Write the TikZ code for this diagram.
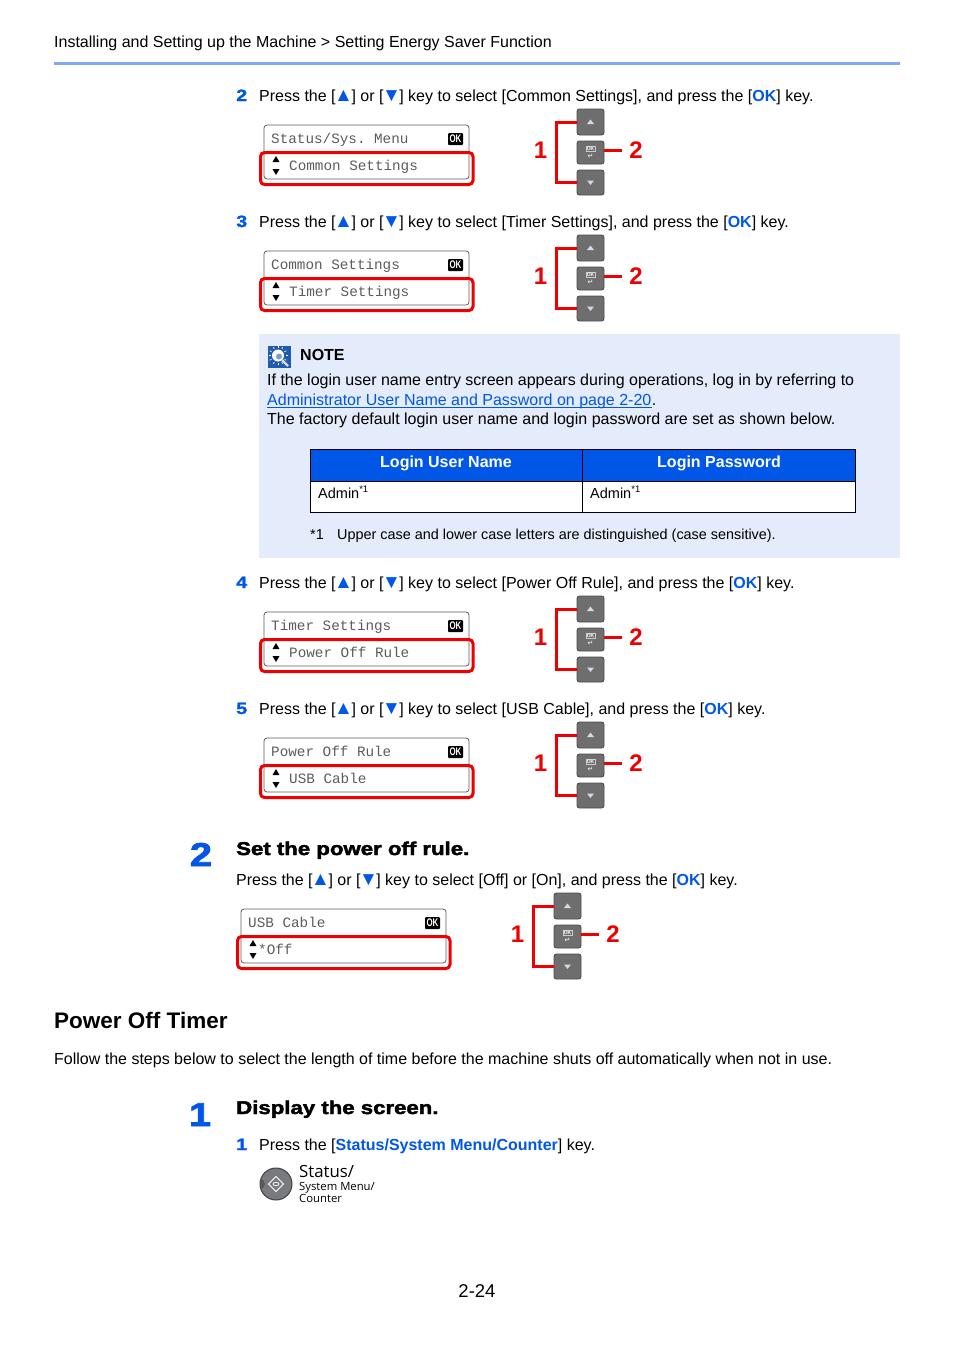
\documentclass[tikz,border=0pt]{standalone}
\usepackage{fontspec}
\setmainfont{Liberation Sans}
\setmonofont{Liberation Mono}
\newfontfamily\widefont[FakeStretch=1.2,FakeBold=1.3]{Liberation Sans}
\newfontfamily\headfont[FakeStretch=1.2,FakeBold=2.4]{Liberation Sans}
\newfontfamily\labelfont{Open Sans}
\newfontfamily\arrowfont{DejaVu Sans}
\definecolor{keyblue}{HTML}{0057E7}
\definecolor{rulered}{HTML}{EE0000}
\definecolor{notebg}{HTML}{E4EBFA}
\definecolor{toprule}{HTML}{7FA8FA}
\definecolor{keygray}{HTML}{6E6E6E}
\definecolor{panelgray}{HTML}{5C5C5C}
\definecolor{iconblue}{HTML}{1E5CAE}
\newcommand{\blu}[1]{{\color{keyblue}#1}}
\newcommand{\bluebf}[1]{{\color{keyblue}\bfseries #1}}
\newcommand{\sz}[1]{\fontsize{#1}{#1}\selectfont}
\newcommand{\tri}[1]{\sbox0{#1}\makebox[\wd0]{\color{keyblue}\sz{19}#1}}
\newcommand{\pressline}[1]{Press the [\tri{▲}] or [\tri{▼}] key to select #1, and press the [\bluebf{OK}] key.}
\tikzset{
	txt/.style={anchor=base west,inner sep=0pt,font=\sz{16}},
	stepnum/.style={txt,font=\widefont\bfseries\sz{16.5},text=keyblue},
	bignum/.style={anchor=base,inner sep=0pt,font=\headfont\bfseries\sz{33},text=keyblue},
	heading/.style={txt,font=\headfont\bfseries\sz{18.5}},
	panelbox/.style={draw=panelgray,line width=0.8pt,rounded corners=3pt,fill=white},
	redbox/.style={draw=rulered,line width=3pt,rounded corners=4pt},
	paneltext/.style={anchor=base west,inner sep=0pt,font=\ttfamily\sz{14.3},text=panelgray},
	okmark/.style={fill=black,text=white,inner sep=0pt,minimum width=15pt,minimum height=12pt,rounded corners=1pt,font=\bfseries\sz{11}},
	keybtn/.style={draw=black!70,line width=0.9pt,fill=keygray,rounded corners=2.5pt,minimum width=27pt,inner sep=0pt},
	redline/.style={draw=rulered,line width=3pt},
	rednum/.style={inner sep=0pt,font=\bfseries\sz{24},text=rulered},
	headcell/.style={anchor=base,inner sep=0pt,text=white,font=\bfseries\sz{16}},
	admin/.style={txt,font=\sz{14.5}},
}
\begin{document}
\begin{tikzpicture}[x=1pt,y=-1pt]
	\useasboundingbox (0,0) rectangle (954,1350);
	% page head
	\node[txt] (pagehead) at (54,47) {Installing and Setting up the Machine > Setting Energy Saver Function};
	\draw[toprule,line width=2.6pt] (54,63.5) -- (900,63.5);
	% note box
	\fill[notebg] (259,334) rectangle (900,558);
	\fill[iconblue] (268,346) rectangle (291,368);
	\foreach \ang in {0,30,...,330} \draw[white,line width=0.7pt] (278,355.5) ++(\ang:7.5) -- ++(\ang:2);
	\fill[white] (278,355.5) circle (6);
	\fill[iconblue!60] (279,356.5) circle (3);
	\draw[white!85!black,line width=2.4pt] (282,360) -- (288,366);
	\node[txt,font=\bfseries\sz{16}] (notehead) at (300,360.5) {NOTE};
	\node[txt] (noteone) at (267,385.5) {If the login user name entry screen appears during operations, log in by referring to};
	\node[txt,text=keyblue] (notelink) at (267,405.5) {Administrator User Name and Password on page 2-20};
	\node[txt,anchor=base west] (notedot) at (notelink.base east) {.};
	\draw[keyblue,line width=0.8pt] ([yshift=-1.6pt]notelink.base west) -- ([yshift=-1.6pt]notelink.base east);
	\node[txt] (notethree) at (267,424) {The factory default login user name and login password are set as shown below.};
	% login table
	\fill[white] (310,481) rectangle (855.5,512);
	\fill[keyblue] (310,449) rectangle (855.5,481);
	\draw[black,line width=1pt] (310,449) rectangle (855.5,512) (310,481) -- (855.5,481) (582.5,449) -- (582.5,512);
	\node[headcell] (headuser) at (446,467) {Login User Name};
	\node[headcell] (headpass) at (719,467) {Login Password};
	\node[admin] (celluser) at (318,498) {Admin\raisebox{6pt}{\sz{9.5}*1}};
	\node[admin] (cellpass) at (590,498) {Admin\raisebox{6pt}{\sz{9.5}*1}};
	\node[txt,font=\sz{14.4}] (footmark) at (310,539) {*1};
	\node[txt,font=\sz{14.4}] (foottext) at (337,539) {Upper case and lower case letters are distinguished (case sensitive).};
	% the steps with a panel and the keys
	\foreach \n/\x/\y/\a/\b/\sel in {
		2/0/96/{Status/Sys. Menu}/{Common Settings}/{[Common Settings]},
		3/0/222/{Common Settings}/{Timer Settings}/{[Timer Settings]},
		4/0/583/{Timer Settings}/{Power Off Rule}/{[Power Off Rule]},
		5/0/709/{Power Off Rule}/{USB Cable}/{[USB Cable]},
		6/-23/880/{USB Cable}/{\hspace*{-8pt}*Off}/{[Off] or [On]}}{
		\begin{scope}[shift={(\x,\y)}]
			\ifnum\n<6
				\node[stepnum] (num\n) at (236,5) {\n};
			\fi
			\node[txt] (press\n) at (259,5) {\pressline{\sel}};
			% panel
			\draw[panelbox] (264,29) rectangle (469,83);
			\node[paneltext] (top\n) at (271,47.5) {\a};
			\node[paneltext] (sel\n) at (289,74.5) {\b};
			\node[okmark] (ok\n) at (455.5,43) {\scalebox{0.72}[1]{OK}};
			\fill[black] (272.5,66) -- (279.5,66) -- (276,60) -- cycle (272.5,73) -- (279.5,73) -- (276,79) -- cycle;
			\draw[redbox] (260.5,56.5) rectangle (473,88.5);
			% keys
			\node[keybtn,minimum height=26pt] (up\n) at (590.5,26) {};
			\node[keybtn,minimum height=23pt] (enter\n) at (590.5,56.5) {};
			\node[keybtn,minimum height=25pt] (down\n) at (590.5,86.5) {};
			\fill[white!85!black] (587,28) -- (594,28) -- (590.5,23.5) -- cycle (587,84.5) -- (594,84.5) -- (590.5,89) -- cycle;
			\node[inner sep=0.7pt,draw=white!80!black,line width=0.4pt,text=white,font=\bfseries\sz{5}] (okkey\n) at (590.5,53) {OK};
			\node[inner sep=0pt,text=white,font=\arrowfont\sz{7}] (ret\n) at (590.5,60.5) {↵};
			\node[rednum] (labone\n) at (540.5,54.5) {1};
			\node[rednum] (labtwo\n) at (636,54.5) {2};
			\draw[redline] (up\n.west) -- ++(-20,0) |- (down\n.west);
			\draw[redline] ([yshift=2.5pt]enter\n.east) -- ++(18,0);
		\end{scope}
	}
	% second big step
	\node[bignum] (bigtwo) at (201,866) {2};
	\node[heading] (settitle) at (236,855) {Set the power off rule.};
	% timer section
	\node[txt,font=\bfseries\sz{22.5}] (timertitle) at (54,1028) {Power Off Timer};
	\node[txt] (timertext) at (54,1064) {Follow the steps below to select the length of time before the machine shuts off automatically when not in use.};
	\node[bignum] (bigone) at (200,1126) {1};
	\node[heading] (displaytitle) at (236,1114) {Display the screen.};
	\node[stepnum] (numone) at (236,1150) {1};
	\node[txt] (pressone) at (259,1150) {Press the [\bluebf{Status/System Menu/Counter}] key.};
	% status key
	\draw[black!75,line width=1pt,fill=black!50!blue!5!gray] (276,1184) circle (16);
	\fill[black!65] (260.5,1179) .. controls (266,1179) and (266.5,1189) .. (260.5,1189) -- cycle;
	\draw[white,line width=0.9pt] (276,1176.5) -- (283.5,1184) -- (276,1191.5) -- (268.5,1184) -- cycle;
	\draw[white,line width=0.7pt] (276,1184) ellipse (3 and 1.7);
	\node[txt,font=\labelfont\sz{16.8}] (statusone) at (299,1177) {Status/};
	\node[txt,font=\labelfont\sz{11.3}] (statustwo) at (299,1190) {System Menu/};
	\node[txt,font=\labelfont\sz{11.3}] (statusthree) at (299,1202) {Counter};
	\node[anchor=base,inner sep=0pt,font=\sz{18.5}] (pagenum) at (477,1297.5) {2-24};
\end{tikzpicture}
\end{document}
